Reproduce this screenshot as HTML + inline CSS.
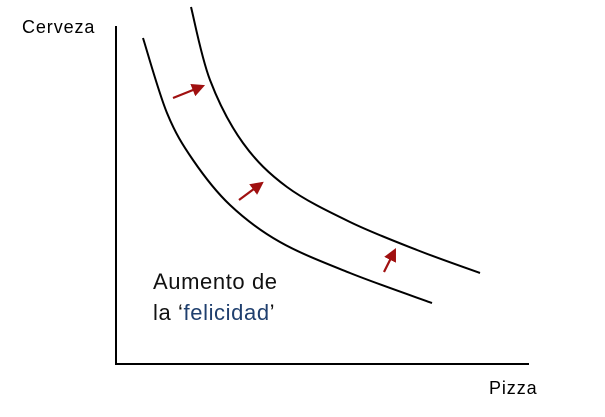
<!DOCTYPE html>
<html><head><meta charset="utf-8"><style>
html,body{margin:0;padding:0;background:#fff;width:605px;height:417px;overflow:hidden}
svg{display:block}
text{font-family:"Liberation Sans",sans-serif}
</style></head><body>
<svg id="chart" width="605" height="417" viewBox="0 0 605 417">
<defs><marker id="ah" markerWidth="6" markerHeight="6" refX="5" refY="3" orient="auto" markerUnits="strokeWidth"><path d="M0,0 L6,3 L0,6 z" fill="#a01010"/></marker></defs>
<line x1="116" y1="26" x2="116" y2="365" stroke="#000" stroke-width="2"/>
<line x1="115" y1="364" x2="529" y2="364" stroke="#000" stroke-width="2"/>
<text x="22" y="33" font-size="18" letter-spacing="0.9">Cerveza</text>
<text x="489" y="394" font-size="18" letter-spacing="0.9">Pizza</text>
<text x="153" y="289" font-size="22" letter-spacing="0.6" fill="#111">Aumento de</text>
<text x="153" y="320" font-size="22" letter-spacing="0.6" fill="#111">la ‘<tspan fill="#1f3f6e">felicidad</tspan>’</text>
<g id="marks"></g>
</svg>
<script>
// data units: x = pizza, y = cerveza
const curve1X=[27,51,77,114,164,234,316];
const curve1Y=[326,251,204,159,122,91,61];
const curve2X=[75,94,127,171,234,301,364];
const curve2Y=[357,284,221,177,142,114,91];
const arrowFromX=[57,123,268];
const arrowFromY=[266,164,92];
const arrowToX=[87,146,279];
const arrowToY=[278,181,114];
const sx=v=>116+v, sy=v=>364-v;
const g=document.getElementById('marks');
const NS='http://www.w3.org/2000/svg';
function smooth(xs,ys){
  const p=xs.map((x,i)=>[sx(x),sy(ys[i])]);
  let d='M'+p[0][0]+','+p[0][1];
  for(let i=0;i<p.length-1;i++){
    const p0=p[i-1]||p[i],p1=p[i],p2=p[i+1],p3=p[i+2]||p2;
    const c1=[p1[0]+(p2[0]-p0[0])/6,p1[1]+(p2[1]-p0[1])/6];
    const c2=[p2[0]-(p3[0]-p1[0])/6,p2[1]-(p3[1]-p1[1])/6];
    d+=' C'+c1+' '+c2+' '+p2;
  }
  return d;
}
[[curve1X,curve1Y,'indifference-curve-1'],[curve2X,curve2Y,'indifference-curve-2']].forEach(c=>{
  const path=document.createElementNS(NS,'path');
  path.setAttribute('d',smooth(c[0],c[1]));
  path.setAttribute('fill','none');path.setAttribute('stroke','#000');path.setAttribute('stroke-width','2');
  
  
  g.appendChild(path);
});
arrowFromX.forEach((x,i)=>{
  const l=document.createElementNS(NS,'line');
  l.setAttribute('x1',sx(x));l.setAttribute('y1',sy(arrowFromY[i]));
  l.setAttribute('x2',sx(arrowToX[i]));l.setAttribute('y2',sy(arrowToY[i]));
  l.setAttribute('stroke','#a01010');l.setAttribute('stroke-width','2.2');
  l.setAttribute('marker-end','url(#ah)');
  
  
  g.appendChild(l);
});
</script>
</body></html>
